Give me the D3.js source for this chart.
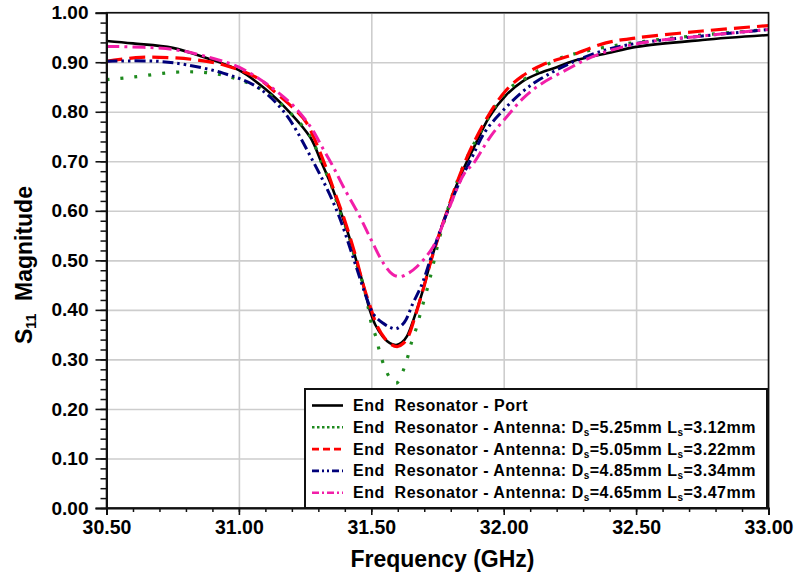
<!DOCTYPE html>
<html>
<head>
<meta charset="utf-8">
<script src="https://cdn.jsdelivr.net/npm/d3@7"></script>
<style>
  body { margin: 0; background: #fff; }
  svg { display: block; font-family: Arial, 'Liberation Sans', sans-serif; }
</style>
</head>
<body>
<svg></svg>
<script>
// frequency (GHz) / S11 magnitude pairs
let portData = [
  [30.50, 0.943], [30.60, 0.938], [30.75, 0.929], [30.88, 0.908], [31.00, 0.884],
  [31.10, 0.846], [31.19, 0.800], [31.27, 0.748], [31.31, 0.700], [31.35, 0.650],
  [31.38, 0.605], [31.415, 0.550], [31.443, 0.500], [31.47, 0.450], [31.494, 0.400],
  [31.515, 0.370], [31.545, 0.345], [31.57, 0.333], [31.594, 0.329], [31.615, 0.334],
  [31.635, 0.347], [31.663, 0.386], [31.695, 0.440], [31.726, 0.501], [31.758, 0.555],
  [31.789, 0.602], [31.82, 0.649], [31.858, 0.696], [31.883, 0.723], [31.946, 0.790],
  [32.01, 0.834], [32.07, 0.861], [32.135, 0.878], [32.20, 0.890], [32.26, 0.902],
  [32.39, 0.918], [32.50, 0.931], [32.75, 0.945], [33.00, 0.955]
]
let ant525Data = [
  [30.50, 0.865], [30.60, 0.870], [30.765, 0.880], [30.88, 0.879], [30.98, 0.868],
  [31.09, 0.844], [31.19, 0.800], [31.27, 0.750], [31.31, 0.700], [31.35, 0.650],
  [31.38, 0.600], [31.415, 0.550], [31.44, 0.500], [31.47, 0.450], [31.49, 0.400],
  [31.50, 0.373], [31.519, 0.343], [31.531, 0.316], [31.55, 0.285], [31.575, 0.259],
  [31.595, 0.252], [31.62, 0.277], [31.638, 0.306], [31.651, 0.333], [31.67, 0.363],
  [31.689, 0.400], [31.72, 0.460], [31.755, 0.540], [31.79, 0.605], [31.817, 0.649],
  [31.86, 0.706], [31.917, 0.764], [31.984, 0.823], [32.03, 0.851], [32.094, 0.871],
  [32.198, 0.905], [32.254, 0.915], [32.40, 0.932], [32.50, 0.940], [32.75, 0.955],
  [33.00, 0.966]
]
let ant505Data = [
  [30.50, 0.902], [30.63, 0.910], [30.75, 0.909], [30.82, 0.906], [30.94, 0.895],
  [31.07, 0.868], [31.14, 0.838], [31.22, 0.800], [31.255, 0.778], [31.32, 0.700],
  [31.36, 0.640], [31.40, 0.580], [31.44, 0.510], [31.47, 0.450], [31.50, 0.400],
  [31.52, 0.370], [31.55, 0.343], [31.575, 0.330], [31.60, 0.326], [31.62, 0.332],
  [31.64, 0.347], [31.665, 0.386], [31.695, 0.440], [31.726, 0.500], [31.758, 0.555],
  [31.79, 0.605], [31.82, 0.652], [31.855, 0.700], [31.88, 0.730], [31.945, 0.795],
  [32.01, 0.844], [32.07, 0.872], [32.147, 0.895], [32.26, 0.915], [32.386, 0.939],
  [32.50, 0.949], [32.75, 0.963], [33.00, 0.974]
]
let ant485Data = [
  [30.50, 0.902], [30.69, 0.902], [30.80, 0.895], [30.94, 0.878], [31.066, 0.851],
  [31.17, 0.800], [31.28, 0.700], [31.37, 0.600], [31.435, 0.500], [31.485, 0.420],
  [31.51, 0.390], [31.545, 0.373], [31.57, 0.365], [31.594, 0.362], [31.625, 0.375],
  [31.657, 0.413], [31.69, 0.450], [31.725, 0.505], [31.76, 0.560], [31.80, 0.615],
  [31.835, 0.660], [31.873, 0.700], [31.93, 0.760], [31.993, 0.800], [32.07, 0.840],
  [32.135, 0.865], [32.26, 0.900], [32.386, 0.925], [32.50, 0.938], [32.75, 0.953],
  [33.00, 0.966]
]
let ant465Data = [
  [30.50, 0.932], [30.75, 0.926], [30.90, 0.908], [31.00, 0.890], [31.10, 0.858],
  [31.20, 0.815], [31.27, 0.770], [31.32, 0.723], [31.355, 0.690], [31.394, 0.649],
  [31.45, 0.595], [31.50, 0.541], [31.546, 0.494], [31.58, 0.472], [31.608, 0.467],
  [31.64, 0.474], [31.672, 0.487], [31.734, 0.528], [31.791, 0.602], [31.852, 0.676],
  [31.885, 0.695], [31.95, 0.750], [32.018, 0.794], [32.075, 0.828], [32.138, 0.855],
  [32.238, 0.885], [32.338, 0.912], [32.50, 0.937], [32.75, 0.953], [33.00, 0.966]
]

let xTicks = [30.5, 31.0, 31.5, 32.0, 32.5, 33.0]
let yTicks = [0, 0.1, 0.2, 0.3, 0.4, 0.5, 0.6, 0.7, 0.8, 0.9, 1.0]
let xMinorStep = 0.1
let yMinorStep = 0.02

let seriesNames = ['Port', 'Antenna: D|=5.25mm L|=3.12mm', 'Antenna: D|=5.05mm L|=3.22mm',
                   'Antenna: D|=4.85mm L|=3.34mm', 'Antenna: D|=4.65mm L|=3.47mm']

let width = 794
let height = 577
let padL = 106.5, padR = 768.5, padT = 12.7, padB = 508

let series = [
  { data: portData,   color: '#000000', w: 2.6, dash: null,               legDash: null },
  { data: ant525Data, color: '#1e8a1e', w: 3.2, dash: '3,11',             legDash: '2.5,2.5' },
  { data: ant505Data, color: '#ff0000', w: 3.2, dash: '16,7',             legDash: '7,4' },
  { data: ant485Data, color: '#00007a', w: 3,   dash: '11,4,2.5,4,2.5,4', legDash: '7,3,2,3,2,3' },
  { data: ant465Data, color: '#f21ea8', w: 3,   dash: '13,5,3,5',         legDash: '7,3,2,3' }
]

let svg = d3.select('svg').attr('width', width).attr('height', height)

let xScale = d3.scaleLinear().domain([30.5, 33]).range([padL, padR])
let yScale = d3.scaleLinear().domain([0, 1]).range([padB, padT])

let xMinor = d3.range(30.5, 33.0001, xMinorStep)
let yMinor = d3.range(0, 1.0001, yMinorStep)

let drawGrid = () => {
  svg.append('g')
    .attr('transform', 'translate(0,' + padB + ')')
    .call(d3.axisBottom(xScale).tickValues(xTicks).tickSize(-(padB - padT)).tickFormat(''))
    .call(g => g.select('.domain').remove())
    .selectAll('line').attr('stroke', '#cdcdcd').attr('stroke-width', 1.6)

  svg.append('g')
    .attr('transform', 'translate(' + padL + ',0)')
    .call(d3.axisLeft(yScale).tickValues(yTicks).tickSize(-(padR - padL)).tickFormat(''))
    .call(g => g.select('.domain').remove())
    .selectAll('line').attr('stroke', '#cdcdcd').attr('stroke-width', 1.6)
}

let drawCurves = () => {
  let line = d3.line()
    .x(d => xScale(d[0]))
    .y(d => yScale(d[1]))
    .curve(d3.curveCatmullRom.alpha(0.5))

  series.forEach(s => {
    svg.append('path')
      .attr('d', line(s.data))
      .attr('fill', 'none')
      .attr('stroke', s.color)
      .attr('stroke-width', s.w)
      .attr('stroke-dasharray', s.dash)
  })
}

let drawFrame = () => {
  svg.append('rect')
    .attr('x', padL).attr('y', padT)
    .attr('width', padR - padL).attr('height', padB - padT)
    .attr('fill', 'none').attr('stroke', '#111').attr('stroke-width', 1.6)
}

let drawLegend = () => {
  let lg = svg.append('g')
  lg.append('rect')
    .attr('x', 305).attr('y', 389)
    .attr('width', 462).attr('height', padB - 389)
    .attr('fill', '#fff').attr('stroke', '#111').attr('stroke-width', 2)

  seriesNames.forEach((name, i) => {
    let yb = 411 + i * 21.8
    let s = series[i]
    lg.append('line')
      .attr('x1', 312).attr('x2', 343)
      .attr('y1', yb - 5.5).attr('y2', yb - 5.5)
      .attr('stroke', s.color).attr('stroke-width', 2.6)
      .attr('stroke-dasharray', s.legDash)

    let t = lg.append('text')
      .attr('x', 353).attr('y', yb)
      .attr('font-size', 16).attr('font-weight', 'bold')
      .attr('letter-spacing', 0.5)
      .style('white-space', 'pre')
    let parts = ('End  Resonator - ' + name).split('|')
    parts.forEach((p, j) => {
      if (j > 0) {
        t.append('tspan').attr('font-size', 10).attr('dy', 3).text('s')
        t.append('tspan').attr('dy', -3).text(p)
      } else {
        t.append('tspan').text(p)
      }
    })
  })
}

let drawAxes = () => {
  let fmt = d3.format('.2f')

  // minor ticks
  svg.append('g')
    .attr('transform', 'translate(0,' + padB + ')')
    .call(d3.axisBottom(xScale).tickValues(xMinor).tickSize(4).tickFormat(''))
    .call(g => g.select('.domain').remove())
    .selectAll('line').attr('stroke', '#111').attr('stroke-width', 1.5)
  svg.append('g')
    .attr('transform', 'translate(' + padL + ',0)')
    .call(d3.axisLeft(yScale).tickValues(yMinor).tickSize(6).tickFormat(''))
    .call(g => g.select('.domain').remove())
    .selectAll('line').attr('stroke', '#111').attr('stroke-width', 1.5)

  let xAxis = svg.append('g')
    .attr('transform', 'translate(0,' + padB + ')')
    .call(d3.axisBottom(xScale).tickValues(xTicks).tickSize(7).tickPadding(5).tickFormat(fmt))
  xAxis.select('.domain').attr('stroke', '#111').attr('stroke-width', 2)
  xAxis.selectAll('line').attr('stroke', '#111').attr('stroke-width', 1.6)
  xAxis.selectAll('text')
    .attr('font-size', 19.5).attr('font-weight', 'bold').attr('fill', '#000')
    .attr('font-family', 'Arial, Liberation Sans, sans-serif')

  let yAxis = svg.append('g')
    .attr('transform', 'translate(' + padL + ',0)')
    .call(d3.axisLeft(yScale).tickValues(yTicks).tickSize(11).tickPadding(7).tickFormat(fmt))
  yAxis.select('.domain').attr('stroke', '#111').attr('stroke-width', 2)
  yAxis.selectAll('line').attr('stroke', '#111').attr('stroke-width', 1.6)
  yAxis.selectAll('text')
    .attr('font-size', 19).attr('font-weight', 'bold').attr('fill', '#000')
    .attr('font-family', 'Arial, Liberation Sans, sans-serif')

  svg.append('text')
    .attr('x', (padL + padR) / 2 + 5).attr('y', 567)
    .attr('text-anchor', 'middle')
    .attr('font-size', 23).attr('font-weight', 'bold')
    .text('Frequency (GHz)')

  let yt = svg.append('text')
    .attr('transform', 'translate(32,' + 265 + ') rotate(-90)')
    .attr('text-anchor', 'middle')
    .attr('font-size', 23).attr('font-weight', 'bold')
  yt.append('tspan').text('S')
  yt.append('tspan').attr('font-size', 14).attr('dy', 4).text('11')
  yt.append('tspan').attr('dy', -4).style('white-space', 'pre').text('  Magnitude')
}

drawGrid()
drawCurves()
drawFrame()
drawLegend()
drawAxes()
</script>
</body>
</html>
